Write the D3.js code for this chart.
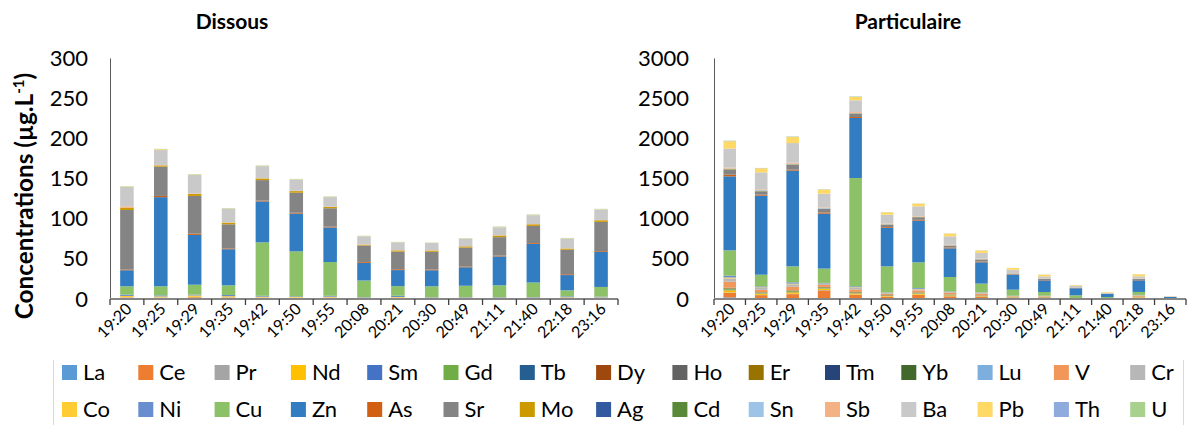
<!DOCTYPE html>
<html><head><meta charset="utf-8">
<script src="https://cdn.jsdelivr.net/npm/d3@7"></script>
<style>
body{margin:0;background:#fff;}
svg{display:block;font-family:Lato,"Open Sans",sans-serif;}
</style>
</head><body>
<script>
const categories = ["19:20","19:25","19:29","19:35","19:42","19:50","19:55","20:08","20:21","20:30","20:49","21:11","21:40","22:18","23:16"];
const elements = ["La","Ce","Pr","Nd","Sm","Gd","Tb","Dy","Ho","Er","Tm","Yb","Lu","V","Cr","Co","Ni","Cu","Zn","As","Sr","Mo","Ag","Cd","Sn","Sb","Ba","Pb","Th","U"];
const colors = ["#5B9BD5","#ED7D31","#A5A5A5","#FFC000","#4472C4","#70AD47","#255E91","#9E480E","#636363","#997300","#264478","#43682B","#7CAFDD","#F1975A","#B7B7B7","#FFCD33","#698ED0","#8CC168","#327DC2","#D26012","#848484","#CC9A00","#335AA1","#5A8A39","#9DC3E6","#F4B183","#C9C9C9","#FFD966","#8FAADC","#A9D18E"];
const dissousTicks = [0,50,100,150,200,250,300];
const particulaireTicks = [0,500,1000,1500,2000,2500,3000];
const titles = ["Dissous","Particulaire"];

// Dissous: one row per element (same order as elements), one value per category
const dissousValues = [
 [0,0,0,0,0,0,0,0,0,0,0,0,0,0,0], // La
 [0.3,0.3,0.3,0.3,0.3,0.3,0.3,0.2,0.3,0.2,0.2,0.2,0.2,0.2,0.2], // Ce
 [0,0,0,0,0,0,0,0,0,0,0,0,0,0,0], // Pr
 [0.2,0.2,0.2,0.2,0.2,0.2,0.2,0.2,0.2,0.2,0.2,0.2,0.2,0.2,0.2], // Nd
 [0,0,0,0,0,0,0,0,0,0,0,0,0,0,0], // Sm
 [0,0,0,0,0,0,0,0,0,0,0,0,0,0,0], // Gd
 [0,0,0,0,0,0,0,0,0,0,0,0,0,0,0], // Tb
 [0,0,0,0,0,0,0,0,0,0,0,0,0,0,0], // Dy
 [0,0,0,0,0,0,0,0,0,0,0,0,0,0,0], // Ho
 [0,0,0,0,0,0,0,0,0,0,0,0,0,0,0], // Er
 [0,0,0,0,0,0,0,0,0,0,0,0,0,0,0], // Tm
 [0,0,0,0,0,0,0,0,0,0,0,0,0,0,0], // Yb
 [0,0,0,0,0,0,0,0,0,0,0,0,0,0,0], // Lu
 [1.5,1.2,1.8,1.5,1.2,1.0,1.2,0.8,1.0,0.8,0.8,0.8,0.8,0.8,0.8], // V
 [0.3,0.3,0.3,0.3,0.2,0.2,0.2,0.2,0.2,0.2,0.2,0.2,0.2,0.2,0.2], // Cr
 [1.5,1.2,1.8,1.2,1.0,0.8,1.0,0.5,0.8,0.5,0.5,0.5,0.5,0.7,0.6], // Co
 [1.6,1.3,1.0,1.5,1.1,0.8,1.1,0.6,1.5,0.6,0.6,0.6,0.6,1.2,1.0], // Ni
 [10.4,11.3,12.4,12,66.5,56,42,20.5,12,13.3,14,14.5,18,7.5,12], // Cu
 [20,111,62,45,51,47,43,22,20,20,23,36,48,19,43.5], // Zn
 [1,1.5,1.5,1,1,1,1,1,1,1,1,1,1,1,1], // As
 [74,36.5,47,30,25.5,25,23,20.6,22,22,23.5,23,21.5,30.5,36.5], // Sr
 [3,1.5,2.5,2,2,2,1.5,1,1.5,1.5,1.5,2,2,1.5,2], // Mo
 [0,0,0,0,0,0,0,0,0,0,0,0,0,0,0], // Ag
 [0,0,0,0,0,0,0,0,0,0,0,0,0,0,0], // Cd
 [0.1,0.1,0.1,0.1,0.1,0.1,0.1,0.1,0.1,0.1,0.1,0.1,0.1,0.1,0.1], // Sn
 [1.5,0.5,0.5,0.3,0.3,0.3,0.3,0.3,0.3,0.3,0.3,0.3,0.3,0.3,0.3], // Sb
 [24,18.5,23,17,15,14,12,10,9.5,9,9,10,11,12,13], // Ba
 [0.5,1,0.5,0.3,0.3,0.3,0.3,0.2,0.2,0.2,0.3,0.3,0.3,0.3,0.3], // Pb
 [0,0,0,0,0,0,0,0,0,0,0,0,0,0,0], // Th
 [0.5,0.5,0.5,0.5,0.5,0.5,0.5,0.5,0.5,0.3,0.5,0.5,0.5,0.5,0.5]  // U
];

// Particulaire
const particulaireValues = [
 [20,8,10,12,8,4,6,5,4,2,2,0.5,0.3,2,0.1], // La
 [55,40,50,95,45,25,45,28,22,10,12,3,2,14,0.5], // Ce
 [6,3,4,4,3,2,3,2,2,1,1,0.3,0.2,1,0], // Pr
 [28,15,20,18,14,8,12,9,7,4,4,1,0.7,5,0.2], // Nd
 [6,3,4,4,3,2,3,2,2,1,1,0.3,0.2,1,0], // Sm
 [12,8,10,8,8,4,6,5,4,2,2,0.5,0.4,3,0.1], // Gd
 [1,0.5,0.5,0.5,0.5,0.3,0.4,0.3,0.3,0.2,0.2,0.05,0,0.2,0], // Tb
 [5,3,4,4,3,2,3,2,2,1,1,0.3,0.2,1,0], // Dy
 [1,0.5,0.5,0.5,0.5,0.3,0.4,0.3,0.3,0.2,0.2,0.05,0,0.2,0], // Ho
 [3,1.5,2,2,1.5,1,1.5,1,1,0.5,0.5,0.1,0.1,0.5,0], // Er
 [0.5,0.3,0.3,0.3,0.3,0.2,0.2,0.2,0.2,0.1,0.1,0.02,0,0.1,0], // Tm
 [3,1.5,2,2,1.5,1,1.5,1,1,0.5,0.5,0.1,0.1,0.5,0], // Yb
 [0.5,0.2,0.2,0.2,0.2,0.1,0.1,0.1,0.1,0.1,0.1,0.02,0,0.1,0], // Lu
 [75,30,45,25,30,15,25,20,22,10,8,3,2,12,0.5], // V
 [40,25,30,12,22,10,14,10,8,4,4,1.5,1,5,0.3], // Cr
 [12,6,9,5,6,3,6,3,3,1.5,1.5,0.5,0.3,2,0.1], // Co
 [22,12,16,8,12,5,10,6,5,3,3,1,0.7,3,0.2], // Ni
 [316,145,199,178,1348,324,319,179,108,75,46,34,17,37,6], // Cu
 [921,984,1191,684,747,477,519,357,265,183,145,87,37,145,17], // Zn
 [20,12,12,15,12,10,10,10,10,5,5,2,1,5,0.5], // As
 [63,41,62,43,42,31,32,23,24,11,12,6,3,12,1], // Sr
 [5,3,4,3,3,2,2,2,2,1,1,0.5,0.3,1,0.1], // Mo
 [1,1,1,1,1,0.5,0.5,0.5,0.5,0.3,0.3,0.1,0.1,0.3,0], // Ag
 [2,1,1.5,1,1,1,1,0.5,0.5,0.3,0.3,0.1,0.1,0.3,0], // Cd
 [6,10,6,8,5,3,4,3,2,1,1,0.5,0.3,1,0.1], // Sn
 [12,10,12,7,10,8,7,6,5,3,3,1.5,1,3,0.3], // Sb
 [237,212,245,171,146,110,122,104,73,44,27,22,9,27,6], // Ba
 [91,50,75,50,42,29,33,33,29,21,21,8,8,25,2], // Pb
 [3,2,3,2,3,1,1,1,1,0.5,0.5,0.3,0.2,0.5,0.1], // Th
 [4,3,4,3,4,2,2,2,2,1,1,0.5,0.3,1,0.1]  // U
];

const W = 1195, H = 425;
const svg = d3.select("body").append("svg").attr("width", W).attr("height", H);

function drawChart(cfg) {
  const g = svg.append("g");
  const n = categories.length;
  const x = d3.scaleBand().domain(categories).range([cfg.x0, cfg.x1]).paddingInner(0.6).paddingOuter(0.3);
  const y = d3.scaleLinear().domain([0, d3.max(cfg.ticks)]).range([cfg.yBottom, cfg.yTop]);
  const rows = categories.map((c, j) => {
    const r = {cat: c};
    elements.forEach((e, i) => r[e] = cfg.values[i][j]);
    return r;
  });
  const stacked = d3.stack().keys(elements)(rows);
  g.selectAll("g.series").data(stacked).join("g")
    .attr("fill", (d, i) => colors[i])
    .selectAll("rect").data(d => d.filter(p => p[1] - p[0] > 0)).join("rect")
    .attr("x", d => x(d.data.cat))
    .attr("width", x.bandwidth())
    .attr("y", d => y(d[1]))
    .attr("height", d => y(d[0]) - y(d[1]));

  // y axis
  const ya = g.append("g").attr("transform", `translate(${cfg.x0},0)`)
    .call(d3.axisLeft(y).tickValues(cfg.ticks).tickSize(0).tickPadding(cfg.tickPad).tickFormat(d3.format("d")));
  ya.select(".domain").attr("stroke", "#595959").attr("stroke-width", 1);
  ya.selectAll("text").attr("font-size", 22).attr("fill", "#000").attr("font-family", "Lato");

  // x axis
  const step = x.step();
  g.append("line").attr("x1", cfg.x0).attr("x2", cfg.x1).attr("y1", cfg.yBottom).attr("y2", cfg.yBottom)
    .attr("stroke", "#868686").attr("stroke-width", 2);
  g.selectAll("line.tk").data(d3.range(n + 1)).join("line").attr("class", "tk")
    .attr("x1", i => cfg.x0 + i * step).attr("x2", i => cfg.x0 + i * step)
    .attr("y1", cfg.yBottom).attr("y2", cfg.yBottom + 6)
    .attr("stroke", "#404040").attr("stroke-width", 1.3);
  g.selectAll("text.xl").data(categories).join("text").attr("class", "xl")
    .attr("transform", d => `translate(${x(d) + x.bandwidth() / 2 + 6},${cfg.yBottom + 11}) rotate(-45)`)
    .attr("text-anchor", "end").attr("font-size", 16).attr("fill", "#000")
    .text(d => d);

  g.append("text").attr("x", cfg.titleX).attr("y", 29).attr("text-anchor", "middle")
    .attr("font-size", 21).attr("font-weight", "bold").attr("fill", "#000").text(cfg.title);
}

drawChart({x0: 110, x1: 618, yTop: 58, yBottom: 299, ticks: dissousTicks, values: dissousValues, tickPad: 22, title: titles[0], titleX: 232});
drawChart({x0: 714, x1: 1186, yTop: 58, yBottom: 299, ticks: particulaireTicks, values: particulaireValues, tickPad: 25, title: titles[1], titleX: 908});

// y label
const yl = svg.append("text").attr("transform", "translate(33,196) rotate(-90)")
  .attr("text-anchor", "middle").attr("font-weight", "bold").attr("font-size", 22).attr("fill", "#000");
yl.append("tspan").text("Concentrations (µg.L");
yl.append("tspan").attr("dy", -8).attr("font-size", 14).text("-1");
yl.append("tspan").attr("dy", 8).text(")");
const len = yl.node().getComputedTextLength();
const fs = 22 * 247 / len;
yl.attr("font-size", fs);
yl.selectAll("tspan").filter((d, i) => i === 1).attr("font-size", fs * 0.62).attr("dy", -fs * 0.38);
yl.selectAll("tspan").filter((d, i) => i === 2).attr("dy", fs * 0.38);

// legend
const legend = svg.append("g");
legend.append("line").attr("x1", 53.5).attr("x2", 53.5).attr("y1", 360).attr("y2", 425).attr("stroke", "#d9d9d9");
legend.append("line").attr("x1", 1183.5).attr("x2", 1183.5).attr("y1", 360).attr("y2", 425).attr("stroke", "#d9d9d9");
const perRow = 15, spacing = 76.3;
const items = legend.selectAll("g.it").data(elements).join("g").attr("class", "it")
  .attr("transform", (d, i) => `translate(${62 + (i % perRow) * spacing},${i < perRow ? 365 : 402})`);
items.append("rect").attr("width", 15).attr("height", 15).attr("fill", (d, i) => colors[i]);
items.append("text").attr("x", 21).attr("y", 15).attr("font-size", 22).attr("fill", "#000").text(d => d);
</script>
</body></html>
